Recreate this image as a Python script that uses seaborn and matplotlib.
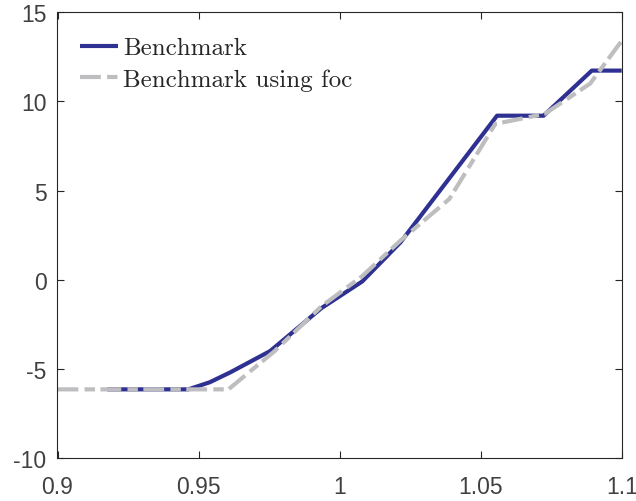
import matplotlib
matplotlib.use("Agg")
import matplotlib.pyplot as plt
import seaborn as sns
import pandas as pd
from matplotlib.font_manager import FontProperties

# Data
bench_x = [0.9176, 0.9464, 0.9540, 0.9612, 0.9754, 0.9935, 1.0080, 1.0216, 1.0558, 1.0723, 1.0894, 1.1000]
bench_y = [-6.15, -6.15, -5.75, -5.20, -4.00, -1.60, -0.10, 2.10, 9.20, 9.20, 11.73, 11.73]

foc_x = [0.9000, 0.9606, 0.9770, 0.9935, 1.0080, 1.0216, 1.0389, 1.0552, 1.0727, 1.0888, 1.1000]
foc_y = [-6.15, -6.15, -4.00, -1.50, 0.20, 2.20, 4.53, 8.74, 9.30, 11.00, 13.40]

xticks = [0.9, 0.95, 1.0, 1.05, 1.1]
xtick_labels = ["0.9", "0.95", "1", "1.05", "1.1"]
yticks = [-10, -5, 0, 5, 10, 15]
ytick_labels = ["-10", "-5", "0", "5", "10", "15"]

series_names = ["Benchmark", "Benchmark using foc"]

sns.set_theme(style="white")
plt.rcParams["font.family"] = ["Liberation Sans", "DejaVu Sans"]

fig = plt.figure(figsize=(6.36, 5.02), dpi=100)
ax = fig.add_axes([57.5 / 636, 1 - 459 / 502, (621.7 - 57.5) / 636, (459 - 13.3) / 502])

blue = "#2E3192"
grey = "#BEBEC0"

df_b = pd.DataFrame({"x": bench_x, "y": bench_y})
df_f = pd.DataFrame({"x": foc_x, "y": foc_y})

sns.lineplot(data=df_b, x="x", y="y", ax=ax, color=blue, linewidth=3.0,
             sort=False, label=series_names[0], solid_capstyle="butt")
sns.lineplot(data=df_f, x="x", y="y", ax=ax, color=grey, linewidth=3.0,
             sort=False, label=series_names[1])
ax.lines[1].set_linestyle((0, (5.0, 1.5, 2.5, 1.3)))

ax.set_xlim(0.9, 1.1)
ax.set_ylim(-10, 15)
ax.set_xticks(xticks)
ax.set_xticklabels(xtick_labels)
ax.set_yticks(yticks)
ax.set_yticklabels(ytick_labels)
ax.set_xlabel("")
ax.set_ylabel("")

axcol = "#262626"
for s in ax.spines.values():
    s.set_visible(True)
    s.set_color(axcol)
    s.set_linewidth(0.8)
ax.tick_params(axis="both", which="both", direction="in", length=5, width=0.8,
               color=axcol, labelcolor="#404040", labelsize=16.5,
               top=True, right=True, bottom=True, left=True)
ax.tick_params(axis="x", pad=12)
ax.tick_params(axis="y", pad=8)

leg = ax.legend(loc="upper left", bbox_to_anchor=(0.04, 0.945), frameon=False,
                prop=FontProperties(family="cmr10", size=18),
                handlelength=1.52, handletextpad=0.2, labelspacing=0.36,
                borderaxespad=0, borderpad=0)
for t in leg.get_texts():
    t.set_color("#262626")

fig.savefig("out.png", dpi=100)
